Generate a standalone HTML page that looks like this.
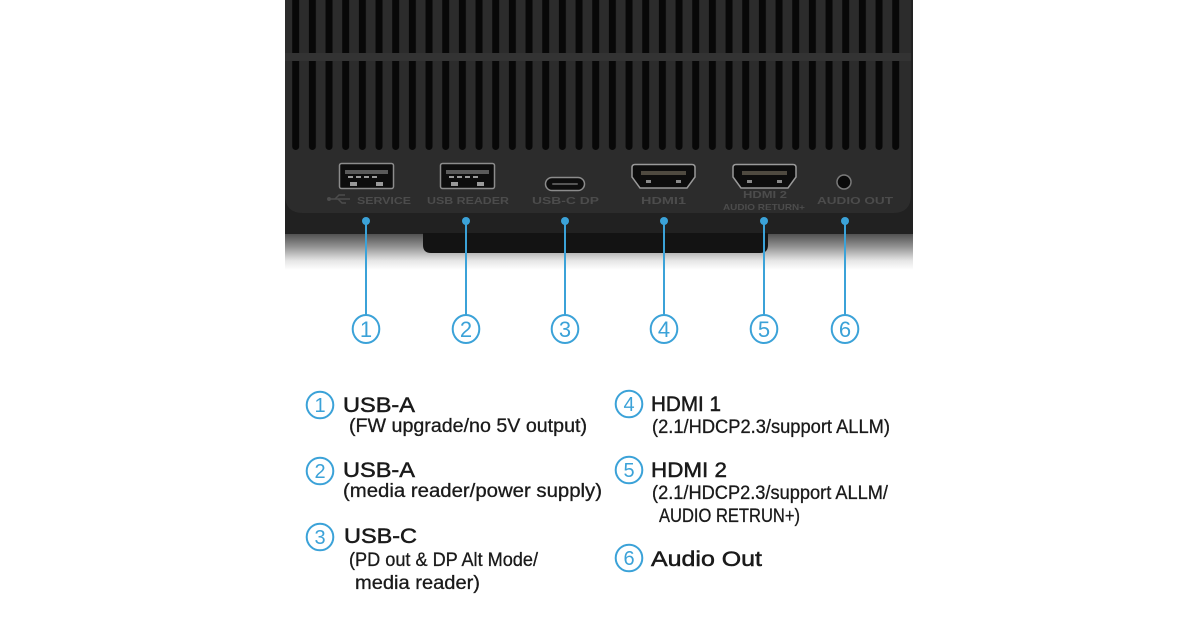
<!DOCTYPE html>
<html><head><meta charset="utf-8"><style>
html,body{margin:0;padding:0;background:#fff;}
svg{display:block;}
text{font-family:"Liberation Sans",sans-serif;}
</style></head><body>
<svg width="1200" height="630" viewBox="0 0 1200 630" xmlns="http://www.w3.org/2000/svg">
<defs>
<pattern id="slots" x="292.2" y="-10" width="16.667" height="170" patternUnits="userSpaceOnUse">
<rect x="0" y="0" width="7" height="160" rx="3.5" fill="#080808"/>
</pattern>
<linearGradient id="shade" x1="0" y1="0" x2="0" y2="1">
<stop offset="0" stop-color="#4c4c4c"/>
<stop offset="0.35" stop-color="#8e8e8e"/>
<stop offset="0.75" stop-color="#e6e6e6"/>
<stop offset="1" stop-color="#ffffff"/>
</linearGradient>
</defs>
<rect width="1200" height="630" fill="#fff"/>
<!-- shadow / floor -->
<rect x="285" y="233" width="628" height="37" fill="url(#shade)"/>
<!-- lower band -->
<rect x="285" y="0" width="628" height="234" fill="#212121"/>
<!-- stand -->
<path d="M423,233 H768 V245 Q768,253 760,253 H431 Q423,253 423,245 Z" fill="#131313"/>
<!-- face -->
<path d="M285,0 H911 V195 Q911,213 893,213 H303 Q285,213 285,195 Z" fill="#2c2c2c"/>
<!-- slots -->
<rect x="288" y="0" width="612" height="150" fill="url(#slots)"/>
<rect x="285" y="53" width="626" height="8" fill="#333"/>

<!-- USB-A 1 -->
<rect x="339.5" y="163.5" width="54" height="25" rx="2" fill="#0d0d0d" stroke="#8c8c8c" stroke-width="1.5"/>
<rect x="345" y="170" width="43" height="4" fill="#5a5a5a"/>
<g fill="#9a9a9a"><rect x="348" y="176" width="5" height="2"/><rect x="356" y="176" width="5" height="2"/><rect x="364" y="176" width="5" height="2"/><rect x="372" y="176" width="5" height="2"/><rect x="350" y="182" width="7" height="4"/><rect x="376" y="182" width="7" height="4"/></g>
<!-- USB-A 2 -->
<rect x="440.5" y="163.5" width="54" height="25" rx="2" fill="#0d0d0d" stroke="#8c8c8c" stroke-width="1.5"/>
<rect x="446" y="170" width="43" height="4" fill="#5a5a5a"/>
<g fill="#9a9a9a"><rect x="449" y="176" width="5" height="2"/><rect x="457" y="176" width="5" height="2"/><rect x="465" y="176" width="5" height="2"/><rect x="473" y="176" width="5" height="2"/><rect x="451" y="182" width="7" height="4"/><rect x="477" y="182" width="7" height="4"/></g>
<!-- USB-C -->
<rect x="545.5" y="177.5" width="39" height="13" rx="6.5" fill="#0d0d0d" stroke="#8c8c8c" stroke-width="1.5"/>
<rect x="552" y="183" width="26" height="2" rx="1" fill="#555"/>
<!-- HDMI 1 -->
<path d="M635,164.5 H692 Q695,164.5 695,167.5 V177 L687,188 H640 L632,177 V167.5 Q632,164.5 635,164.5 Z" fill="#0d0d0d" stroke="#9a9a9a" stroke-width="1.5"/>
<rect x="641" y="171" width="45" height="4" fill="#4f4a40"/>
<g fill="#8a8a8a"><rect x="646" y="180" width="5" height="3"/><rect x="676" y="180" width="5" height="3"/></g>
<!-- HDMI 2 -->
<path d="M736,164.5 H793 Q796,164.5 796,167.5 V177 L788,188 H741 L733,177 V167.5 Q733,164.5 736,164.5 Z" fill="#0d0d0d" stroke="#9a9a9a" stroke-width="1.5"/>
<rect x="742" y="171" width="45" height="4" fill="#4f4a40"/>
<g fill="#8a8a8a"><rect x="747" y="180" width="5" height="3"/><rect x="777" y="180" width="5" height="3"/></g>
<!-- Audio jack -->
<circle cx="844" cy="182" r="7" fill="#0a0a0a" stroke="#7a7a7a" stroke-width="1.5"/>

<!-- port labels -->
<g fill="#4c4c4c" font-weight="bold" font-size="10.5">
<text x="357" y="204" textLength="54" lengthAdjust="spacingAndGlyphs">SERVICE</text>
<text x="427" y="204" textLength="82" lengthAdjust="spacingAndGlyphs">USB READER</text>
<text x="532" y="204" textLength="67" lengthAdjust="spacingAndGlyphs">USB-C DP</text>
<text x="641" y="204" textLength="45" lengthAdjust="spacingAndGlyphs">HDMI1</text>
<text x="743" y="198" textLength="44" lengthAdjust="spacingAndGlyphs">HDMI 2</text>
<text x="723" y="210" font-size="8.5" textLength="82" lengthAdjust="spacingAndGlyphs">AUDIO RETURN+</text>
<text x="817" y="204" textLength="76" lengthAdjust="spacingAndGlyphs">AUDIO OUT</text>
</g>
<g stroke="#4c4c4c" stroke-width="1.5" fill="none">
<line x1="330" y1="199" x2="350" y2="199"/>
<path d="M335,199 L339,195 H345 M338,199 L342,203 H346"/>
</g>
<circle cx="329" cy="199" r="2" fill="#4c4c4c"/>

<!-- connectors -->
<g stroke="#3ba2d8" stroke-width="2">
<line x1="366" y1="221" x2="366" y2="315"/>
<line x1="466" y1="221" x2="466" y2="315"/>
<line x1="565" y1="221" x2="565" y2="315"/>
<line x1="664" y1="221" x2="664" y2="315"/>
<line x1="764" y1="221" x2="764" y2="315"/>
<line x1="845" y1="221" x2="845" y2="315"/>
</g>
<g fill="#3ba2d8">
<circle cx="366" cy="221" r="4"/><circle cx="466" cy="221" r="4"/><circle cx="565" cy="221" r="4"/>
<circle cx="664" cy="221" r="4"/><circle cx="764" cy="221" r="4"/><circle cx="845" cy="221" r="4"/>
</g>
<g fill="#fff" stroke="#3ba2d8" stroke-width="2">
<ellipse cx="366" cy="329" rx="13.3" ry="14"/>
<ellipse cx="466" cy="329" rx="13.3" ry="14"/>
<ellipse cx="565" cy="329" rx="13.3" ry="14"/>
<ellipse cx="664" cy="329" rx="13.3" ry="14"/>
<ellipse cx="764" cy="329" rx="13.3" ry="14"/>
<ellipse cx="845" cy="329" rx="13.3" ry="14"/>
</g>
<g fill="#3ba2d8" font-size="22" text-anchor="middle">
<text x="366" y="337">1</text><text x="466" y="337">2</text><text x="565" y="337">3</text>
<text x="664" y="337">4</text><text x="764" y="337">5</text><text x="845" y="337">6</text>
</g>

<!-- legend circles -->
<g fill="#fff" stroke="#3ba2d8" stroke-width="2">
<circle cx="320" cy="405" r="13.3"/>
<circle cx="320" cy="471" r="13.3"/>
<circle cx="320" cy="537" r="13.3"/>
<circle cx="629" cy="404" r="13.3"/>
<circle cx="629" cy="470" r="13.3"/>
<circle cx="629" cy="558" r="13.3"/>
</g>
<g fill="#3ba2d8" font-size="20" text-anchor="middle">
<text x="320" y="412">1</text><text x="320" y="478">2</text><text x="320" y="544">3</text>
<text x="629" y="411">4</text><text x="629" y="477">5</text><text x="629" y="565">6</text>
</g>

<!-- legend text -->
<g fill="#1a1a1a" stroke="#1a1a1a" stroke-width="0.5" font-size="21">
<text x="343" y="412" textLength="72" lengthAdjust="spacingAndGlyphs">USB-A</text>
<text x="343" y="477" textLength="72" lengthAdjust="spacingAndGlyphs">USB-A</text>
<text x="344" y="543" textLength="73" lengthAdjust="spacingAndGlyphs">USB-C</text>
<text x="651" y="411" textLength="70" lengthAdjust="spacingAndGlyphs">HDMI 1</text>
<text x="651" y="477" textLength="76" lengthAdjust="spacingAndGlyphs">HDMI 2</text>
<text x="651" y="566" textLength="111" lengthAdjust="spacingAndGlyphs">Audio Out</text>
</g>
<g fill="#1a1a1a" stroke="#1a1a1a" stroke-width="0.3" font-size="19">
<text x="349" y="432" textLength="238" lengthAdjust="spacingAndGlyphs">(FW upgrade/no 5V output)</text>
<text x="343" y="497" textLength="259" lengthAdjust="spacingAndGlyphs">(media reader/power supply)</text>
<text x="349" y="566" textLength="189" lengthAdjust="spacingAndGlyphs">(PD out &amp; DP Alt Mode/</text>
<text x="355" y="589" textLength="125" lengthAdjust="spacingAndGlyphs">media reader)</text>
<text x="652" y="433" textLength="238" lengthAdjust="spacingAndGlyphs">(2.1/HDCP2.3/support ALLM)</text>
<text x="652" y="499" textLength="236" lengthAdjust="spacingAndGlyphs">(2.1/HDCP2.3/support ALLM/</text>
<text x="659" y="522" textLength="141" lengthAdjust="spacingAndGlyphs">AUDIO RETRUN+)</text>
</g>
</svg>
</body></html>
